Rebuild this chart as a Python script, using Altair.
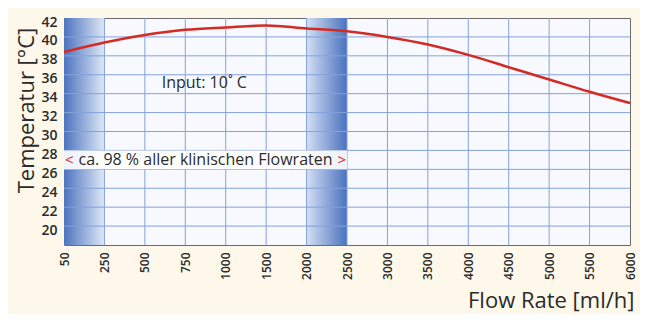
import altair as alt
import pandas as pd

flow_labels = ["50", "250", "500", "750", "1000", "1500", "2000", "2500",
               "3000", "3500", "4000", "4500", "5000", "5500", "6000"]
temperature = [38.4, 39.4, 40.2, 40.75, 41.0, 41.2, 40.9, 40.6,
               40.0, 39.2, 38.1, 36.8, 35.5, 34.2, 33.0]
y_ticks = [20, 22, 24, 26, 28, 30, 32, 34, 36, 38, 40, 42]
y_grid = [18, 20, 22, 24, 26, 28, 30, 32, 34, 36, 38, 40, 42]
x_index = list(range(len(flow_labels)))

curve = pd.DataFrame({"i": x_index, "t": temperature})

x_scale = alt.Scale(domain=[0, 14], nice=False, zero=False)
y_scale = alt.Scale(domain=[18, 42], nice=False, zero=False)
label_expr = "[" + ",".join(f"'{l}'" for l in flow_labels) + "][datum.value]"

FONT = "Open Sans"
W = 566

x_axis = alt.Axis(values=x_index, labelExpr=label_expr, labelAngle=-90,
                  grid=False, ticks=False, domain=False,
                  labelFont=FONT, labelFontSize=12, labelFontWeight=600,
                  labelColor="#2b2b2b", labelPadding=7,
                  title="Flow Rate [ml/h]", titleFont=FONT, titleFontSize=22,
                  titleFontWeight="normal", titleColor="#2b2b2b",
                  titleAnchor="end", titleAlign="right", titleBaseline="middle",
                  titleX=W + 4, titleY=55)
y_axis = alt.Axis(values=y_ticks, grid=False, ticks=False, domain=False,
                  labelFont=FONT, labelFontSize=14, labelFontWeight=600,
                  labelColor="#2b2b2b", labelPadding=7, labelOffset=4,
                  title="Temperatur [°C]", titleFont=FONT, titleFontSize=22,
                  titleFontWeight="normal", titleColor="#2b2b2b",
                  titleAngle=-90, titleAlign="center", titleBaseline="middle",
                  titleX=-38, titleY=92)


def X(field):
    return alt.X(field, scale=x_scale, axis=x_axis)


def Y(field):
    return alt.Y(field, scale=y_scale, axis=y_axis)


# gradient bands
band_left = alt.Chart(pd.DataFrame({"x": [0], "x2": [1], "y": [18], "y2": [42]})).mark_rect(
    color=alt.Gradient(gradient="linear", x1=0, x2=1, y1=0, y2=0,
                       stops=[alt.GradientStop(offset=0, color="#4d74bf"),
                              alt.GradientStop(offset=1, color="#dfe8f7")])
).encode(x=X("x:Q"), x2="x2:Q", y=Y("y:Q"), y2="y2:Q")

band_right = alt.Chart(pd.DataFrame({"x": [6], "x2": [7], "y": [18], "y2": [42]})).mark_rect(
    color=alt.Gradient(gradient="linear", x1=0, x2=1, y1=0, y2=0,
                       stops=[alt.GradientStop(offset=0, color="#d3dff4"),
                              alt.GradientStop(offset=1, color="#4a72bd")])
).encode(x=X("x:Q"), x2="x2:Q", y=Y("y:Q"), y2="y2:Q")

vgrid = alt.Chart(pd.DataFrame({"x": x_index[1:-1]})).mark_rule(
    color="#84a2db", strokeWidth=1
).encode(x=X("x:Q"))

hgrid = alt.Chart(pd.DataFrame({"y": y_grid[1:-1]})).mark_rule(
    color="#84a2db", strokeWidth=1
).encode(y=Y("y:Q"))

label_box = alt.Chart(pd.DataFrame({"x": [0], "x2": [7], "y": [26], "y2": [28]})).mark_rect(
    color="#ffffff", opacity=0.9
).encode(x=X("x:Q"), x2="x2:Q", y=Y("y:Q"), y2="y2:Q")

line = alt.Chart(curve.rename(columns={"i": "x", "t": "y"})).mark_line(
    color="#d42a22", strokeWidth=2.5, interpolate="monotone"
).encode(x=X("x:Q"), y=Y("y:Q"))

input_text = alt.Chart(pd.DataFrame({"x": [3.47], "y": [35.1], "s": ["Input: 10˚ C"]})).mark_text(
    font=FONT, fontSize=16, color="#2b2b2b", align="center", baseline="middle"
).encode(x=X("x:Q"), y=Y("y:Q"), text="s:N")

range_text = alt.Chart(pd.DataFrame({"x": [3.5], "y": [27.0], "s": ["ca. 98 % aller klinischen Flowraten"]})).mark_text(
    font=FONT, fontSize=16, color="#2b2b2b", align="center", baseline="middle"
).encode(x=X("x:Q"), y=Y("y:Q"), text="s:N")

arrows = alt.Chart(pd.DataFrame({"x": [0.13, 6.87], "y": [27.0, 27.0], "s": ["<", ">"]})).mark_text(
    font=FONT, fontSize=15, color="#d42a22", align="center", baseline="middle"
).encode(x=X("x:Q"), y=Y("y:Q"), text="s:N")

chart = alt.layer(
    band_left, band_right, vgrid, hgrid, label_box, line, input_text, range_text, arrows
).properties(
    width=W, height=227,
    autosize=alt.AutoSizeParams(type="none"),
    padding={"left": 56, "top": 10, "right": 10, "bottom": 69},
    background="#fdf8ea",
).configure_view(
    fill="#f7f9fe", stroke="#6b6b6b", strokeWidth=1
)

chart.save("out.html", embed_options={"renderer": "svg", "actions": False})
